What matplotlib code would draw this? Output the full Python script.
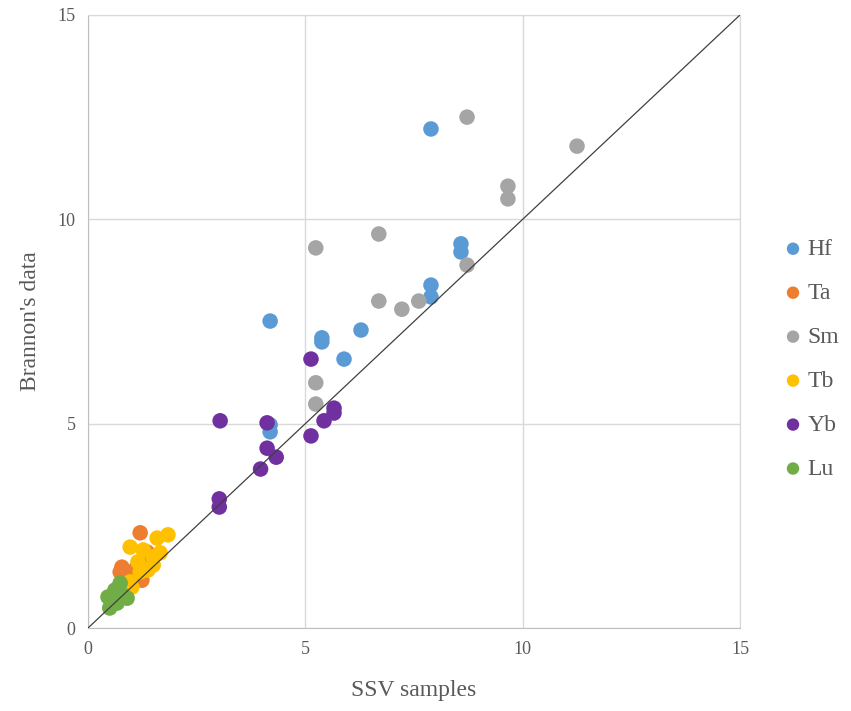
import matplotlib.pyplot as plt

# element data: SSV samples (x) vs Brannon's data (y)
hf_x = [7.89, 8.58, 8.58, 7.89, 7.89, 4.19, 5.38, 5.38, 6.28, 5.89, 4.19, 4.19]
hf_y = [12.21, 9.40, 9.20, 8.39, 8.10, 7.51, 7.10, 7.00, 7.29, 6.58, 4.97, 4.80]

ta_x = [1.20, 1.36, 0.78, 0.74, 0.89, 1.24, 1.10, 1.45]
ta_y = [2.33, 1.86, 1.49, 1.37, 1.30, 1.17, 1.45, 1.70]

sm_x = [8.72, 11.25, 9.66, 9.66, 5.24, 6.69, 6.69, 7.22, 7.61, 8.72, 5.24, 5.24]
sm_y = [12.50, 11.79, 10.81, 10.50, 9.30, 9.64, 8.00, 7.80, 8.00, 8.88, 6.00, 5.48]

tb_x = [1.84, 1.59, 0.97, 1.27, 1.66, 1.50, 1.15, 1.50, 1.20, 0.97, 1.01, 1.38]
tb_y = [2.28, 2.20, 1.98, 1.91, 1.84, 1.74, 1.62, 1.54, 1.37, 1.13, 1.00, 1.42]

yb_x = [5.13, 3.04, 4.12, 5.66, 5.66, 5.43, 5.13, 4.12, 4.33, 3.97, 3.02, 3.02]
yb_y = [6.58, 5.07, 5.02, 5.38, 5.26, 5.07, 4.70, 4.40, 4.18, 3.89, 3.16, 2.96]

lu_x = [0.74, 0.46, 0.80, 0.50, 0.67, 0.90, 0.62]
lu_y = [1.10, 0.76, 0.81, 0.49, 0.61, 0.73, 0.93]

series = [
    ('Hf', hf_x, hf_y, '#5B9BD5'),
    ('Ta', ta_x, ta_y, '#ED7D31'),
    ('Sm', sm_x, sm_y, '#A5A5A5'),
    ('Tb', tb_x, tb_y, '#FFC000'),
    ('Yb', yb_x, yb_y, '#7030A0'),
    ('Lu', lu_x, lu_y, '#70AD47'),
]

plt.rcParams['font.family'] = ['Liberation Serif', 'DejaVu Serif']
text_color = '#595959'

fig = plt.figure(figsize=(8.51, 7.11), dpi=100)
ax = fig.add_axes([0.1034, 0.1167, 0.7662, 0.8623])

for name, xs, ys, col in series:
    ax.scatter(xs, ys, s=125, color=col, label=name, edgecolors='none', zorder=3)

# 1:1 reference line
ax.plot([0, 15], [0, 15], color='#404040', lw=0.9, zorder=4)

ax.set_xlim(0, 15)
ax.set_ylim(0, 15)
ax.set_xticks([0, 5, 10, 15])
ax.set_yticks([0, 5, 10, 15])
ax.grid(True, color='#D9D9D9', lw=1.0, zorder=0)
ax.set_axisbelow(True)
for side in ['top', 'right']:
    ax.spines[side].set_color('#D9D9D9')
for side in ['left', 'bottom']:
    ax.spines[side].set_color('#BFBFBF')
ax.tick_params(length=0, labelsize=13, colors=text_color, pad=9)

ax.set_xlabel('SSV samples', fontsize=17, color=text_color, labelpad=16)
ax.set_ylabel("Brannon's data", fontsize=17, color=text_color, labelpad=12)

leg = fig.legend(loc='center left', bbox_to_anchor=(0.918, 0.495), frameon=False,
                 fontsize=17, handletextpad=0.1, handlelength=1.0,
                 labelspacing=0.95, markerscale=0.8, borderaxespad=0, borderpad=0)
for t in leg.get_texts():
    t.set_color(text_color)

fig.savefig('out.png', dpi=100)
